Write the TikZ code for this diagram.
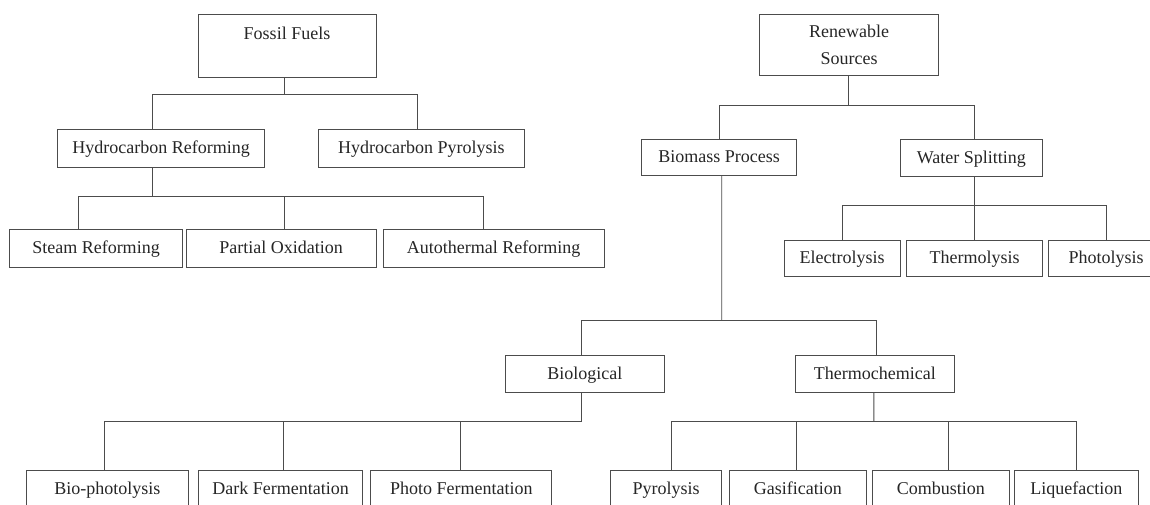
\documentclass[tikz,border=0pt]{standalone}
\usepackage{fontspec}
\setmainfont{Liberation Serif}
\usepackage{tikz}
\tikzset{
  cell/.style={draw=black!70, line width=0.9pt, rectangle, inner sep=0pt, text=black!85, font=\fontsize{18}{27}\selectfont},
  box/.style={cell, minimum height=38pt, text height=12.5pt, text depth=2pt},
  conn/.style={draw=black!70, line width=0.9pt}
}

\begin{document}
\begin{tikzpicture}[x=1pt, y=-1pt]
  \path[use as bounding box, fill=white] (0,0) rectangle (1150,504); % marco
  % fossil fuels
  \node[box, minimum width=178pt, minimum height=63.7pt, text depth=26.3pt] (ff) at (287,45.9) {Fossil Fuels};
  \node[box, minimum width=207pt] (hr) at (161.2,148.3) {Hydrocarbon Reforming};
  \node[box, minimum width=206pt] (hp) at (421.4,148.3) {Hydrocarbon Pyrolysis};
  \node[box, minimum width=173.4pt] (sr) at (96,248.5) {Steam Reforming};
  \node[box, minimum width=190pt] (po) at (281,248.5) {Partial Oxidation};
  \node[box, minimum width=220.8pt] (ar) at (493.6,248.5) {Autothermal Reforming};
  % renewable sources
  \node[cell, align=center, minimum width=179.7pt, minimum height=61.7pt] (rs) at (849,44.9) {Renewable\\Sources};
  \node[box, minimum width=154.8pt, minimum height=36.4pt] (bp) at (719.1,157.5) {Biomass Process};
  \node[box, minimum width=142.2pt, minimum height=37.7pt] (ws) at (971.4,158) {Water Splitting};
  \node[box, minimum width=116.3pt, minimum height=36pt] (el) at (842.2,258.7) {Electrolysis};
  \node[box, minimum width=135.6pt, minimum height=36pt] (tl) at (974.7,258.7) {Thermolysis};
  \node[box, minimum width=116pt, minimum height=36pt] (pl) at (1106,258.7) {Photolysis};
  \node[box, minimum width=158.3pt, minimum height=36.8pt] (bl) at (584.9,374.1) {Biological};
  \node[box, minimum width=159.5pt, minimum height=36.8pt] (tc) at (874.8,374.1) {Thermochemical};
  % fila de abajo
  \node[box, minimum width=162.7pt, minimum height=37.3pt] (bph) at (107.4,489.3) {Bio-photolysis};
  \node[box, minimum width=164pt, minimum height=37.3pt] (df) at (280.7,489.3) {Dark Fermentation};
  \node[box, minimum width=181.2pt, minimum height=37.3pt] (pf) at (461.3,489.3) {Photo Fermentation};
  \node[box, minimum width=110.2pt, minimum height=37.3pt] (py) at (666,489.3) {Pyrolysis};
  \node[box, minimum width=137.4pt, minimum height=37.3pt] (gs) at (797.8,489.3) {Gasification};
  \node[box, minimum width=136.4pt, minimum height=37.3pt] (cb) at (940.9,489.3) {Combustion};
  \node[box, minimum width=123.7pt, minimum height=37.3pt] (lq) at (1076.4,489.3) {Liquefaction};

  % ramas
  \coordinate (j1) at (284.6,94);
  \draw[conn] ([xshift=-2.4pt]ff.south) -- (j1);
  \draw[conn] ([xshift=-9pt]hr.north) |- (j1);
  \draw[conn] ([xshift=-4.1pt]hp.north) |- (j1);

  \coordinate (j2) at (152.2,196);
  \draw[conn] ([xshift=-9pt]hr.south) -- (j2);
  \draw[conn] ([xshift=-17.8pt]sr.north) |- (j2);
  \draw[conn] ([xshift=3.6pt]po.north) |- (j2);
  \draw[conn] ([xshift=-10.3pt]ar.north) |- (j2);

  \coordinate (j3) at (848.2,105.3);
  \draw[conn] ([xshift=-0.8pt]rs.south) -- (j3);
  \draw[conn] (bp.north) |- (j3);
  \draw[conn] ([xshift=3.3pt]ws.north) |- (j3);

  \coordinate (j4) at (974.7,205.7);
  \draw[conn] ([xshift=3.3pt]ws.south) -- (j4);
  \draw[conn] (el.north) |- (j4);
  \draw[conn] (tl.north) -- (j4);
  \draw[conn] (pl.north) |- (j4);

  \coordinate (j5) at (721.7,320);
  \draw[conn] ([xshift=2.6pt]bp.south) -- (j5);
  \draw[conn] ([xshift=-3.2pt]bl.north) |- (j5);
  \draw[conn] ([xshift=1.6pt]tc.north) |- (j5);

  \coordinate (j6) at (581.7,421.7);
  \draw[conn] ([xshift=-3.2pt]bl.south) -- (j6);
  \draw[conn] ([xshift=-3pt]bph.north) |- (j6);
  \draw[conn] ([xshift=2.5pt]df.north) |- (j6);
  \draw[conn] ([xshift=-1.3pt]pf.north) |- (j6);

  \coordinate (j7) at (873.9,421.3);
  \draw[conn] ([xshift=-0.9pt]tc.south) -- (j7);
  \draw[conn] ([xshift=5.5pt]py.north) |- (j7);
  \draw[conn] ([xshift=-1.8pt]gs.north) |- (j7);
  \draw[conn] ([xshift=7.5pt]cb.north) |- (j7);
  \draw[conn] (lq.north) |- (j7);
\end{tikzpicture}
\end{document}
